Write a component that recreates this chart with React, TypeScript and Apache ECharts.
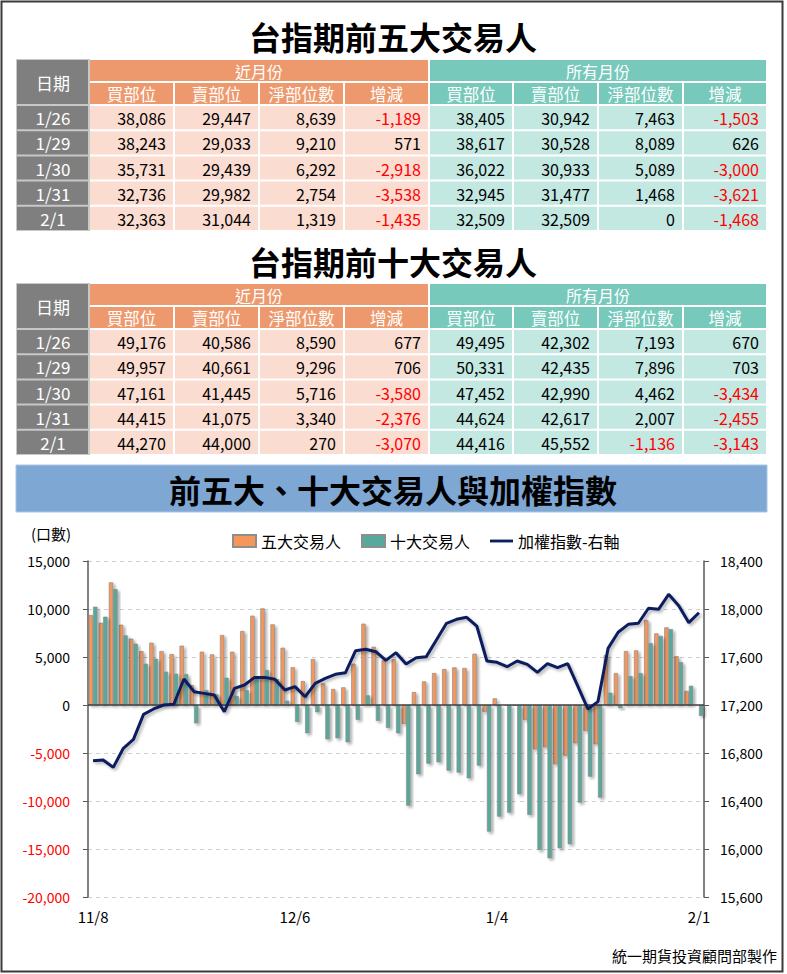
import React, { useEffect, useRef } from "react";
import * as echarts from "echarts";

const dates = [
  "11/8","11/9","11/10","11/13","11/14","11/15","11/16","11/17","11/20","11/21","11/22","11/23","11/24","11/27","11/28","11/29","11/30",
  "12/1","12/4","12/5","12/6","12/7","12/8","12/11","12/12","12/13","12/14","12/15","12/18","12/19","12/20","12/21","12/22","12/25","12/26","12/27","12/28","12/29",
  "1/2","1/3","1/4","1/5","1/8","1/9","1/10","1/11","1/12","1/15","1/16","1/17","1/18","1/19","1/22","1/23","1/24","1/25","1/26","1/29","1/30","1/31",
  "2/1",
];

const top5Net = [
  9375, 8576, 12778, 8368, 6910, 5625, 6493, 5625, 5312, 6180, 2083, 5555, 5278, 7291, 5555, 7708, 9305,
  10069, 8402, 5972, 3940, 2500, 4791, 2257, 1667, 1840, 4305, 8472, 6076, 4653, 4757, -1979, 1354, 2465, 3333, 3750, 3923, 3854,
  5347, -729, 694, 50, -80, -1562, -4618, -4410, -6180, -5278, -3993, -2708, -4097, 5208, 3333, 5625, 5694, 8854, 7463, 8089, 5089, 1468,
  0,
];

const top10Net = [
  10243, 9201, 12083, 7257, 6389, 4305, 4826, 3472, 3264, 3229, -1910, 1562, 1111, 2847, 937, 1562, 2900,
  3646, 2700, 451, -1770, -2951, -764, -3576, -3472, -3889, -1562, 1007, -1667, -2396, -2951, -10486, -7222, -6111, -5972, -6840, -7048, -7639,
  -6319, -13194, -11632, -11215, -9305, -11458, -15104, -15972, -14930, -14514, -10173, -7465, -9652, 1285, -347, 3021, 3333, 6458, 7193, 7896, 4462, 2007,
  -1136,
];

const taiex = [
  16736, 16742, 16680, 16839, 16914, 17122, 17167, 17200, 17206, 17417, 17311, 17297, 17283, 17144, 17339, 17367, 17430,
  17430, 17414, 17325, 17353, 17269, 17380, 17422, 17456, 17469, 17653, 17664, 17644, 17572, 17636, 17542, 17594, 17603, 17742, 17881, 17914, 17931,
  17858, 17567, 17556, 17519, 17567, 17539, 17472, 17544, 17511, 17544, 17358, 17167, 17228, 17672, 17806, 17872, 17881, 18006, 17997, 18122, 18028, 17886,
  17969,
];

const leftTicks = { min: -20000, max: 15000, interval: 5000 };
const rightTicks = { min: 15600, max: 18400, interval: 400 };

const tableDates = ["1/26", "1/29", "1/30", "1/31", "2/1"];
const subHeaders = ["買部位", "賣部位", "淨部位數", "增減"];

// Top 5 traders
const t5NearBuy = [38086, 38243, 35731, 32736, 32363];
const t5NearSell = [29447, 29033, 29439, 29982, 31044];
const t5NearNet = [8639, 9210, 6292, 2754, 1319];
const t5NearChg = [-1189, 571, -2918, -3538, -1435];
const t5AllBuy = [38405, 38617, 36022, 32945, 32509];
const t5AllSell = [30942, 30528, 30933, 31477, 32509];
const t5AllNet = [7463, 8089, 5089, 1468, 0];
const t5AllChg = [-1503, 626, -3000, -3621, -1468];

// Top 10 traders
const t10NearBuy = [49176, 49957, 47161, 44415, 44270];
const t10NearSell = [40586, 40661, 41445, 41075, 44000];
const t10NearNet = [8590, 9296, 5716, 3340, 270];
const t10NearChg = [677, 706, -3580, -2376, -3070];
const t10AllBuy = [49495, 50331, 47452, 44624, 44416];
const t10AllSell = [42302, 42435, 42990, 42617, 45552];
const t10AllNet = [7193, 7896, 4462, 2007, -1136];
const t10AllChg = [670, 703, -3434, -2455, -3143];

const FONT = '"Noto Sans CJK TC", "Noto Sans", sans-serif';
const ORANGE_H = "#EE996D";
const ORANGE_B = "#FADCD1";
const TEAL_H = "#77C9BB";
const TEAL_B = "#C3E8E2";
const GRAY = "#7F7F7F";
const LINE_COLOR = "#0B1F5E";

const fmt = (n: number) => n.toLocaleString("en-US");

function txt(x: number, y: number, s: string, opts: any = {}) {
  const align = opts.align || "center";
  return {
    type: "text",
    x,
    y,
    silent: true,
    style: {
      text: s,
      fill: opts.fill || "#000",
      fontSize: opts.fontSize || 16,
      fontFamily: FONT,
      fontWeight: opts.fontWeight || "normal",
      align,
      textAlign: align,
      verticalAlign: "middle",
      textVerticalAlign: "middle",
    },
  };
}

function cellRect(x0: number, y0: number, x1: number, y1: number, fill: string) {
  return {
    type: "rect",
    silent: true,
    shape: { x: x0 + 1, y: y0 + 1, width: x1 - x0 - 2, height: y1 - y0 - 2 },
    style: { fill },
  };
}

function makeTable(top: number, titleY: number, title: string, cols: number[][]) {
  const els: any[] = [];
  const xs = [17, 89, 174, 259, 344, 429, 513, 598, 683, 767];
  const h1 = 23;
  const rh = 25.2;
  const dataTop = top + 2 * h1;
  els.push(txt(393, titleY, title, { fontSize: 32, fontWeight: "bold" }));
  els.push({
    type: "rect",
    silent: true,
    shape: { x: 16, y: top, width: 74, height: 2 * h1 + 5 * rh },
    style: { fill: "#C8C8C8" },
  });
  els.push(cellRect(16, top, 89, dataTop, GRAY));
  els.push(txt(53, top + h1, "日期", { fill: "#fff", fontSize: 17 }));
  els.push(cellRect(xs[1], top, xs[5], top + h1, ORANGE_H));
  els.push(txt((xs[1] + xs[5]) / 2, top + h1 / 2, "近月份", { fill: "#fff" }));
  els.push(cellRect(xs[5], top, xs[9], top + h1, TEAL_H));
  els.push(txt((xs[5] + xs[9]) / 2, top + h1 / 2, "所有月份", { fill: "#fff" }));
  for (let c = 0; c < 8; c++) {
    const fill = c < 4 ? ORANGE_H : TEAL_H;
    els.push(cellRect(xs[c + 1], top + h1, xs[c + 2], dataTop, fill));
    els.push(txt((xs[c + 1] + xs[c + 2]) / 2, top + h1 * 1.5, subHeaders[c % 4], { fill: "#fff", fontSize: 16.5 }));
  }
  for (let r = 0; r < tableDates.length; r++) {
    const y0 = dataTop + r * rh;
    const y1 = y0 + rh;
    els.push(cellRect(16, y0, 89, y1, GRAY));
    els.push(txt(53, (y0 + y1) / 2, tableDates[r], { fill: "#fff", fontSize: 17 }));
    for (let c = 0; c < 8; c++) {
      const fill = c < 4 ? ORANGE_B : TEAL_B;
      els.push(cellRect(xs[c + 1], y0, xs[c + 2], y1, fill));
      const v = cols[c][r];
      els.push(
        txt(xs[c + 2] - 8, (y0 + y1) / 2 + 0.5, fmt(v), {
          align: "right",
          fill: v < 0 ? "#FF0000" : "#000",
        })
      );
    }
  }
  return els;
}

export default function App() {
  const ref = useRef<HTMLDivElement>(null);

  useEffect(() => {
    if (!ref.current) return;
    const chart = echarts.init(ref.current, null, { renderer: "svg" });

    const graphics: any[] = [
      ...makeTable(59, 36, "台指期前五大交易人", [
        t5NearBuy, t5NearSell, t5NearNet, t5NearChg, t5AllBuy, t5AllSell, t5AllNet, t5AllChg,
      ]),
      ...makeTable(283, 261, "台指期前十大交易人", [
        t10NearBuy, t10NearSell, t10NearNet, t10NearChg, t10AllBuy, t10AllSell, t10AllNet, t10AllChg,
      ]),
      {
        type: "rect",
        silent: true,
        shape: { x: 16, y: 465, width: 751, height: 47 },
        style: { fill: "#7EA7D4", stroke: "#A9C4E4", lineWidth: 1 },
      },
      txt(393, 489, "前五大、十大交易人與加權指數", { fontSize: 32, fontWeight: "bold" }),
      txt(31, 533, "(口數)", { align: "left", fontSize: 15 }),
      txt(777, 955, "統一期貨投資顧問部製作", { align: "right", fontSize: 15 }),
      {
        type: "rect",
        silent: true,
        shape: { x: 1.5, y: 1.5, width: 781, height: 970 },
        style: { fill: "none", stroke: "#3a3a3a", lineWidth: 2 },
      },
    ];

    const barShadow = {
      shadowColor: "rgba(0,0,0,0.35)",
      shadowBlur: 3,
      shadowOffsetX: 2,
      shadowOffsetY: 2,
    };

    chart.setOption({
      animation: false,
      backgroundColor: "#fff",
      textStyle: { fontFamily: FONT },
      graphic: graphics,
      legend: {
        left: 227,
        top: 528,
        itemWidth: 23,
        itemHeight: 12,
        itemGap: 20,
        textStyle: { fontSize: 16, color: "#000", fontFamily: FONT },
        data: [
          { name: "五大交易人", icon: "rect" },
          { name: "十大交易人", icon: "rect" },
          {
            name: "加權指數-右軸",
            icon: "path://M0,0M0,4.5L24,4.5L24,7.5L0,7.5ZM24,12",
            itemStyle: { color: LINE_COLOR, borderWidth: 0 },
          },
        ],
      },
      grid: { left: 88, right: 83, top: 561, bottom: 77, containLabel: false },
      xAxis: {
        type: "category",
        data: dates,
        boundaryGap: true,
        axisLine: { show: false },
        axisTick: { show: false },
        axisLabel: { interval: 19, margin: 12, fontSize: 15, color: "#000", fontFamily: FONT },
        splitLine: { show: false },
      },
      yAxis: [
        {
          type: "value",
          position: "left",
          min: leftTicks.min,
          max: leftTicks.max,
          interval: leftTicks.interval,
          axisLine: { show: true, lineStyle: { color: "#595959", width: 1.5 } },
          axisTick: { show: true, length: 5, lineStyle: { color: "#595959" } },
          axisLabel: {
            margin: 18,
            fontSize: 14,
            fontFamily: FONT,
            formatter: (v: number) => fmt(v),
            color: (v: any) => (Number(v) < 0 ? "#FF0000" : "#000"),
          },
          splitLine: { show: true, lineStyle: { color: "#D0D0D0", type: [4, 4], width: 1 } },
        },
        {
          type: "value",
          position: "right",
          min: rightTicks.min,
          max: rightTicks.max,
          interval: rightTicks.interval,
          axisLine: { show: true, lineStyle: { color: "#595959", width: 1.5 } },
          axisTick: { show: true, length: 5, lineStyle: { color: "#595959" } },
          axisLabel: {
            margin: 16,
            fontSize: 14,
            fontFamily: FONT,
            color: "#000",
            formatter: (v: number) => fmt(v),
          },
          splitLine: { show: false },
        },
      ],
      series: [
        {
          name: "五大交易人",
          type: "bar",
          yAxisIndex: 0,
          data: top5Net,
          barWidth: 4.4,
          barGap: "0%",
          itemStyle: { color: "#F5975B", borderColor: "#8E8E8E", borderWidth: 0.7, ...barShadow },
          markLine: {
            silent: true,
            symbol: ["none", "none"],
            label: { show: false },
            lineStyle: { color: "#404040", type: "solid", width: 1.5 },
            data: [{ yAxis: 0 }],
          },
        },
        {
          name: "十大交易人",
          type: "bar",
          yAxisIndex: 0,
          data: top10Net,
          barWidth: 4.4,
          barGap: "0%",
          itemStyle: { color: "#56A99B", borderColor: "#8E8E8E", borderWidth: 0.7, ...barShadow },
        },
        {
          name: "加權指數-右軸",
          type: "line",
          yAxisIndex: 1,
          data: taiex,
          symbol: "none",
          showSymbol: false,
          itemStyle: { color: LINE_COLOR },
          lineStyle: {
            color: LINE_COLOR,
            width: 3,
            shadowColor: "rgba(0,0,0,0.3)",
            shadowBlur: 3,
            shadowOffsetX: 2,
            shadowOffsetY: 2,
          },
          z: 5,
        },
      ],
    });

    return () => chart.dispose();
  }, []);

  return (
    <div
      ref={ref}
      style={{ position: "absolute", left: 0, top: 0, width: 787, height: 974, background: "#fff" }}
    />
  );
}
